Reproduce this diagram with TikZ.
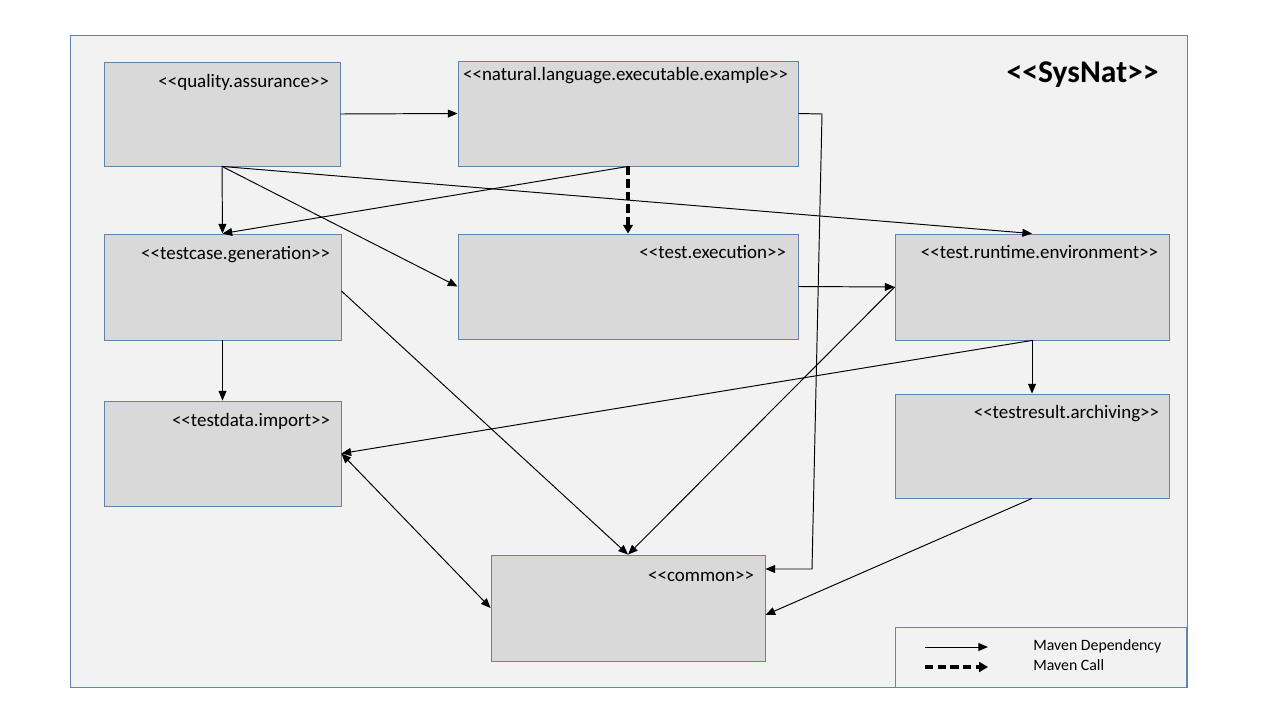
\documentclass[tikz,border=0pt]{standalone}
\usepackage{fontspec}
\setmainfont{Carlito}[Ligatures=TeXOff]
\usetikzlibrary{arrows.meta,fit}
\definecolor{panelfill}{RGB}{242,242,242}
\definecolor{boxfill}{RGB}{217,217,217}
\definecolor{edgeblue}{RGB}{96,132,172}
\tikzset{
  pkg/.style={draw=edgeblue, line width=0.5pt, fill=boxfill, inner sep=0pt},
  pkglabel/.style={anchor=base east, inner sep=0pt, font=\fontsize{10.8}{12}\selectfont},
  dep/.style={line width=0.55pt, -{Triangle[length=5.5pt,width=4.5pt]}},
  depboth/.style={line width=0.55pt, {Triangle[length=5.5pt,width=4.5pt]}-{Triangle[length=5.5pt,width=4.5pt]}},
  call/.style={line width=1.8pt, dash pattern=on 4.8pt off 2.4pt, -{Triangle[length=5pt,width=5.5pt]}},
}
\begin{document}
\begin{tikzpicture}[x=0.02cm, y=-0.02cm]
\useasboundingbox (0,0) rectangle (1280,720);
\fill[white] (0,0) rectangle (1280,720);

% outer SysNat frame
\node[draw=edgeblue, line width=0.5pt, fill=panelfill, inner sep=0pt, fit={(70,35)(1187,687)}] (frame) {};
\node[anchor=base east, inner sep=0pt, font=\fontsize{18}{20}\selectfont\bfseries] (sysnat) at (1159,82) {<<SysNat>>};

% packages
\node[pkg, fit={(104,62)(340,166)}] (qa) {};
\node[pkg, fit={(458,61)(798,166)}] (nle) {};
\node[pkg, fit={(104,234)(341,340)}] (tcg) {};
\node[pkg, fit={(458,234)(798,339)}] (tex) {};
\node[pkg, fit={(895,234)(1169,340)}] (tre) {};
\node[pkg, fit={(104,401)(341,506)}] (tdi) {};
\node[pkg, fit={(895,394)(1169,498)}] (tra) {};
\node[pkg, fit={(491,555)(765,661)}] (com) {};

% package names
\node[pkglabel] (qa-t)  at ([xshift=-0.22cm, yshift=-0.52cm]qa.north east)  {<<quality.assurance>>};
\node[pkglabel] (nle-t) at ([xshift=-0.2cm, yshift=-0.4cm]nle.north east) {<<natural.language.executable.example>>};
\node[pkglabel] (tcg-t) at ([xshift=-0.22cm, yshift=-0.52cm]tcg.north east) {<<testcase.generation>>};
\node[pkglabel] (tex-t) at ([xshift=-0.24cm, yshift=-0.5cm]tex.north east) {<<test.execution>>};
\node[pkglabel] (tre-t) at ([xshift=-0.22cm, yshift=-0.5cm]tre.north east) {<<test.runtime.environment>>};
\node[pkglabel] (tdi-t) at ([xshift=-0.22cm, yshift=-0.52cm]tdi.north east) {<<testdata.import>>};
\node[pkglabel] (tra-t) at ([xshift=-0.2cm, yshift=-0.5cm]tra.north east) {<<testresult.archiving>>};
\node[pkglabel] (com-t) at ([xshift=-0.22cm, yshift=-0.54cm]com.north east) {<<common>>};

% dependencies
\draw[dep] (qa.east) -- (nle.west);
\draw[dep] (qa.south) -- (tcg.north);
\draw[dep] (qa.south) -- (tex.west);
\draw[dep] (qa.south) -- (tre.north);
\draw[dep] (nle.south) -- (tcg.north);
\draw[call] (nle.south) -- (tex.north);
\coordinate (nlebendA) at (822,114);
\coordinate (nlebendB) at (812,569);
\draw[dep] (nle.east) -- (nlebendA) -- (nlebendB) -- (com.east |- nlebendB);
\draw[dep] ([yshift=-0.08cm]tcg.east) -- (com.north);
\draw[dep] (tcg.south) -- (tdi.north);
\draw[dep] (tex.east) -- (tre.west);
\draw[dep] (tre.west) -- (com.north);
\draw[dep] (tre.south) -- (tdi.east);
\draw[dep] (tre.south) -- (tra.north);
\draw[depboth] (tdi.east) -- (com.west);
\draw[dep] (tra.south) -- ([yshift=-0.14cm]com.east);

% legend
\node[draw=edgeblue, line width=0.5pt, fill=panelfill, inner sep=0pt, fit={(895,627)(1186,687)}] (legend) {};
\coordinate (ldepA) at (925,647);
\coordinate (ldepB) at (988,647);
\coordinate (lcallA) at (925,667);
\coordinate (lcallB) at (988,667);
\draw[dep] (ldepA) -- (ldepB);
\draw[call] (lcallA) -- (lcallB);
\node[anchor=base west, inner sep=0pt, font=\fontsize{9}{11}\selectfont] (ldep-t) at (1033,650) {Maven Dependency};
\node[anchor=base west, inner sep=0pt, font=\fontsize{9}{11}\selectfont] (lcall-t) at (1033,670) {Maven Call};
\end{tikzpicture}
\end{document}
